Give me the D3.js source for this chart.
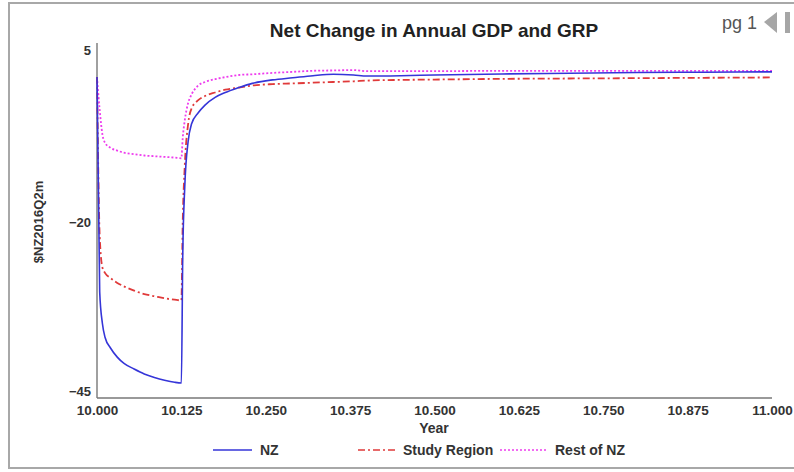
<!DOCTYPE html>
<html>
<head>
<meta charset="utf-8">
<script src="https://cdn.jsdelivr.net/npm/d3@7"></script>
<style>
  html, body { margin: 0; padding: 0; background: #fff; }
  svg { display: block; font-family: "Liberation Sans", Arial, sans-serif; }
</style>
</head>
<body>
<svg id="chart" width="794" height="472"></svg>
<script>
const years = [10.000, 10.004, 10.008, 10.012, 10.02, 10.03, 10.04, 10.055, 10.07, 10.085, 10.10, 10.115, 10.125,
  10.127, 10.13, 10.135, 10.14, 10.15, 10.16, 10.175, 10.19, 10.21, 10.23, 10.26, 10.29, 10.32, 10.35, 10.38,
  10.40, 10.45, 10.5, 10.6, 10.7, 10.8, 10.9, 11.0];
const nz = [0.7, -30, -34.5, -36.5, -38, -39.3, -40.2, -41, -41.7, -42.2, -42.6, -42.9, -43.0,
  -25, -15, -8.5, -6, -4.4, -3.3, -2.2, -1.5, -0.8, -0.2, 0.3, 0.6, 0.9, 1.1, 1.0,
  0.85, 0.9, 1.0, 1.15, 1.25, 1.35, 1.4, 1.45];
const studyRegion = [0.7, -22, -26.5, -27.3, -28, -28.7, -29.2, -29.8, -30.3, -30.6, -30.9, -31.1, -31.2,
  -20, -12, -6, -3.8, -2.6, -2.0, -1.5, -1.1, -0.8, -0.5, -0.3, -0.2, -0.1, 0.0, 0.1,
  0.2, 0.3, 0.35, 0.45, 0.5, 0.55, 0.6, 0.65];
const restOfNZ = [0.7, -4, -7.5, -8.7, -9.4, -9.8, -10.1, -10.3, -10.5, -10.6, -10.7, -10.8, -10.9,
  -8, -5.5, -3, -1.8, -0.5, 0.0, 0.4, 0.7, 1.0, 1.1, 1.3, 1.45, 1.6, 1.65, 1.7,
  1.55, 1.55, 1.55, 1.6, 1.6, 1.6, 1.6, 1.6];
const xTicks = [10.000, 10.125, 10.250, 10.375, 10.500, 10.625, 10.750, 10.875, 11.000];
const yTicks = [5, -20, -45];
const seriesNames = ["NZ", "Study Region", "Rest of NZ"];
const seriesColors = ["#3535d8", "#e03a3a", "#ee3cee"];
const seriesDash = [null, "7,3,2,3", "2,2"];

const svg = d3.select("#chart");
const W = 794, H = 472;
const m = { left: 97, right: 772, top: 47, bottom: 397 };
const FONT = "'Liberation Sans', Arial, sans-serif";

// outer frame
svg.append("rect").attr("x", 9).attr("y", 3).attr("width", W + 10).attr("height", 465)
  .attr("fill", "#fff").attr("stroke", "#a8a8a8").attr("stroke-width", 2);

const x = d3.scaleLinear().domain([10, 11]).range([m.left, m.right]);
const y = d3.scaleLinear().domain([-45, 5]).range([m.bottom, m.top]);

// title
svg.append("text").attr("x", 434).attr("y", 37).attr("text-anchor", "middle")
  .attr("font-size", 19).attr("font-weight", "bold").attr("fill", "#222")
  .text("Net Change in Annual GDP and GRP");

// pg 1 nav
svg.append("text").attr("x", 722).attr("y", 29).attr("font-size", 18).attr("fill", "#555").text("pg 1");
svg.append("path").attr("d", "M764,22 L777,12 L777,33 Z").attr("fill", "#a6a6a6");
svg.append("rect").attr("x", 785).attr("y", 12).attr("width", 5).attr("height", 21).attr("fill", "#a6a6a6");

// axes
const yAxis = d3.axisLeft(y).tickValues(yTicks).tickSize(0).tickPadding(6).tickFormat(d3.format("d"));
const gy = svg.append("g").attr("transform", `translate(${m.left},0)`).call(yAxis);
gy.select(".domain").remove();
gy.selectAll("text").attr("font-size", 13).attr("font-weight", "bold").attr("fill", "#333")
  .attr("font-family", FONT)
  .attr("dy", d => d === 5 ? "0.6em" : (d === -45 ? "-0.1em" : "0.32em"));
svg.append("line").attr("x1", m.left).attr("x2", m.left).attr("y1", 43).attr("y2", m.bottom + 1)
  .attr("stroke", "#a0a0a0").attr("stroke-width", 2);

const xAxis = d3.axisBottom(x).tickValues(xTicks).tickSize(0).tickPadding(7).tickFormat(d3.format(".3f"));
const gx = svg.append("g").attr("transform", `translate(0,${m.bottom + 1})`).call(xAxis);
gx.select(".domain").remove();
gx.selectAll("text").attr("font-size", 13.5).attr("font-weight", "bold").attr("fill", "#333")
  .attr("font-family", FONT);
svg.append("line").attr("x1", m.left).attr("x2", m.right).attr("y1", m.bottom + 1).attr("y2", m.bottom + 1)
  .attr("stroke", "#777").attr("stroke-width", 1.5);

// axis titles
svg.append("text").attr("x", 434).attr("y", 433).attr("text-anchor", "middle")
  .attr("font-size", 14).attr("font-weight", "bold").attr("fill", "#333").text("Year");
svg.append("text").attr("transform", "translate(43,222) rotate(-90)").attr("text-anchor", "middle")
  .attr("font-size", 13).attr("font-weight", "bold").attr("fill", "#333").text("$NZ2016Q2m");

// lines
const seriesData = [nz, studyRegion, restOfNZ];
const line = d3.line().x(d => x(d[0])).y(d => y(d[1])).curve(d3.curveMonotoneX);
const order = [2, 1, 0];
order.forEach(i => {
  const pts = years.map((yr, j) => [yr, seriesData[i][j]]);
  svg.append("path").datum(pts).attr("d", line).attr("fill", "none")
    .attr("stroke", seriesColors[i]).attr("stroke-width", i === 0 ? 1.6 : 1.8)
    .attr("stroke-dasharray", seriesDash[i]);
});

// legend
const legendX = [213, 358, 500];
const legendW = [39, 37, 47];
seriesNames.forEach((name, i) => {
  svg.append("line").attr("x1", legendX[i]).attr("x2", legendX[i] + legendW[i])
    .attr("y1", 450).attr("y2", 450).attr("stroke", seriesColors[i]).attr("stroke-width", 1.4)
    .attr("stroke-dasharray", seriesDash[i]);
  svg.append("text").attr("x", legendX[i] + legendW[i] + 8).attr("y", 455)
    .attr("font-size", 14).attr("font-weight", "bold").attr("fill", "#333").text(name);
});
</script>
</body>
</html>
